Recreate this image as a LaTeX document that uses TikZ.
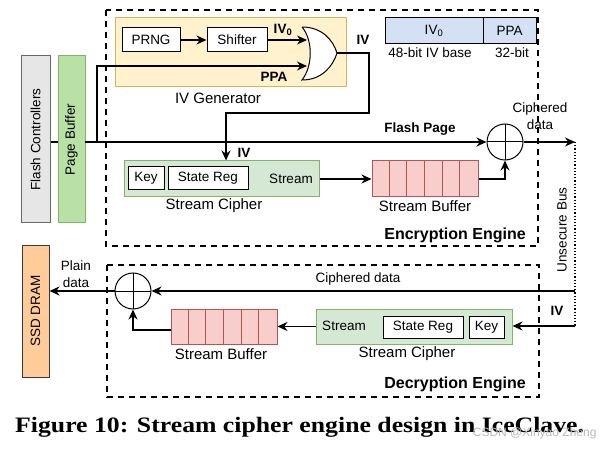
\documentclass[tikz,border=0pt]{standalone}
\usepackage{fontspec}
\setmainfont{Liberation Sans}
\newfontfamily\capfont{Liberation Serif}
\usetikzlibrary{arrows.meta,calc}
\definecolor{ylwfill}{HTML}{FFF2CC}\definecolor{ylwdraw}{HTML}{D6B656}
\definecolor{grnfill}{HTML}{D5E8D4}\definecolor{grndraw}{HTML}{82B366}
\definecolor{pbfill}{HTML}{B9E0A5}
\definecolor{pnkfill}{HTML}{F8CECC}\definecolor{pnkdraw}{HTML}{B85450}
\definecolor{gryfill}{HTML}{E6E6E6}\definecolor{grydraw}{HTML}{666666}
\definecolor{orgfill}{HTML}{FFCC99}\definecolor{orgdraw}{HTML}{36393D}
\definecolor{blufill}{HTML}{D4E1F5}
\tikzset{
  small/.style={font=\fontsize{13.5}{15}\selectfont},
  lbl/.style={font=\fontsize{15}{17}\selectfont},
  boldlbl/.style={font=\fontsize{13.5}{15}\selectfont\bfseries},
  whitebox/.style={draw=black, line width=1pt, fill=white, inner sep=0pt, small},
  arr/.style={line width=1.4pt, -{Stealth[length=10pt,width=9pt]}},
  ln/.style={line width=1.4pt},
  engine/.style={dashed, line width=1.4pt, dash pattern=on 6pt off 5pt},
  xorc/.style={circle, draw=black, line width=1pt, minimum size=36pt, inner sep=0pt,
    path picture={\draw[line width=1pt] (path picture bounding box.north) -- (path picture bounding box.south);
                  \draw[line width=1pt] (path picture bounding box.west) -- (path picture bounding box.east);}},
  tall/.style={line width=1pt, inner sep=0pt, small},
}
\begin{document}
\begin{tikzpicture}[x=1pt,y=-1pt]
\useasboundingbox (0,0) rectangle (613,449);
% engines
\draw[engine] (106,10) rectangle (538,246);
\draw[engine] (107,265) rectangle (539,397);
\node[font=\fontsize{16}{18}\selectfont\bfseries] (enclbl) at (455,235) {Encryption Engine};
\node[font=\fontsize{16}{18}\selectfont\bfseries] (declbl) at (455,384) {Decryption Engine};
% IV generator
\node[draw=ylwdraw, fill=ylwfill, line width=1pt, minimum width=231pt, minimum height=69pt, inner sep=0pt] (ivgen) at (230.5,52.5) {};
\node[lbl] (ivgenlbl) at (218,98) {IV Generator};
\node[whitebox, minimum width=58pt, minimum height=24pt] (prng) at (151,40) {PRNG};
\node[whitebox, minimum width=60pt, minimum height=24pt] (shifter) at (237,40) {Shifter};
% OR gate
\draw[line width=1pt, fill=white] (302,27) .. controls (322,27) and (333,40) .. (337,53)
   .. controls (333,66) and (322,80) .. (302,80) .. controls (313,66) and (313,40) .. (302,27);
\coordinate (gin1) at (307,40);
\coordinate (gin2) at (307,66);
\coordinate (gout) at (337,53);
\draw[arr] (prng) -- (shifter);
\draw[arr] (shifter) -- (gin1);
\node[boldlbl] (iv0lbl) at (283,30) {IV\textsubscript{0}};
\node[boldlbl] (ppalbl) at (274,77) {PPA};
% table
\node[draw=black, fill=blufill, line width=1pt, minimum width=98pt, minimum height=26pt, inner sep=0pt, small] (tiv) at (434,31) {IV\textsubscript{0}};
\node[draw=black, fill=blufill, line width=1pt, minimum width=53pt, minimum height=26pt, inner sep=0pt, small] (tppa) at (509.5,31) {PPA};
\node[small] (tivl) at (430,53) {48-bit IV base};
\node[small] (tppal) at (512,53) {32-bit};
% left boxes
\node[tall, draw=grydraw, fill=gryfill, minimum width=29pt, minimum height=167pt] (flashctl) at (35.5,139.5) {};
\node[small, rotate=90] at (flashctl) {Flash Controllers};
\node[tall, draw=grndraw, fill=pbfill, minimum width=27pt, minimum height=167pt] (pagebuf) at (71.5,139.5) {};
\node[small, rotate=90] at (pagebuf) {Page Buffer};
\node[tall, draw=orgdraw, fill=orgfill, minimum width=27pt, minimum height=132pt] (ssd) at (35.5,311) {};
\node[small, rotate=90] at (ssd) {SSD DRAM};
% encryption stream cipher
\node[draw=grndraw, fill=grnfill, line width=1pt, minimum width=195pt, minimum height=36pt, inner sep=0pt] (enccipher) at (221.5,179) {};
\node[whitebox, minimum width=36pt, minimum height=23pt] (enckey) at (146,178.5) {Key};
\node[whitebox, minimum width=80pt, minimum height=23pt] (encstate) at (208,178.5) {State Reg};
\node[small] (encstream) at (291,179) {Stream};
\node[lbl] (encciphlbl) at (214,206) {Stream Cipher};
% encryption buffer
\node[draw=pnkdraw, fill=pnkfill, line width=1pt, minimum width=106pt, minimum height=36pt, inner sep=0pt] (encbuf) at (425,179) {};
\foreach \i in {1,...,5} \draw[pnkdraw, line width=1pt] ($(encbuf.north west)+(\i*17.667,0)$) -- ($(encbuf.south west)+(\i*17.667,0)$);
\node[lbl] (encbuflbl) at (425,206) {Stream Buffer};
\node[xorc] (xor1) at (505,142) {};
% decryption stream cipher
\node[draw=grndraw, fill=grnfill, line width=1pt, minimum width=196pt, minimum height=35pt, inner sep=0pt] (deccipher) at (414,326.5) {};
\node[whitebox, minimum width=80pt, minimum height=22pt] (decstate) at (423,327) {State Reg};
\node[whitebox, minimum width=35pt, minimum height=22pt] (deckey) at (486.5,327) {Key};
\node[small] (decstream) at (344,326) {Stream};
\node[lbl] (decciphlbl) at (407,354) {Stream Cipher};
\node[draw=pnkdraw, fill=pnkfill, line width=1pt, minimum width=106pt, minimum height=35pt, inner sep=0pt] (decbuf) at (224,326.5) {};
\foreach \i in {1,...,5} \draw[pnkdraw, line width=1pt] ($(decbuf.north west)+(\i*17.667,0)$) -- ($(decbuf.south west)+(\i*17.667,0)$);
\node[lbl] (decbuflbl) at (221,354) {Stream Buffer};
\node[xorc] (xor2) at (133,291) {};
% connectors encryption
\coordinate (br) at (97,142);
\coordinate (pbout) at (85,142);
\draw[ln] (flashctl.east |- br) -- (pagebuf.west |- br);
\draw[arr] (pbout) -- (xor1.west);
\draw[arr] (br) |- (gin2);
\node[boldlbl] (fplbl) at (420,129) {Flash Page};
\coordinate (ivc1) at (369,113);
\coordinate (ivdrop) at (226,113);
\draw[arr] (gout) -| (ivc1) -- (ivdrop) -- (ivdrop |- enccipher.north);
\node[boldlbl] (ivlbl1) at (363,40) {IV};
\node[boldlbl] (ivlbl2) at (244,153) {IV};
\draw[arr] (enccipher.east) -- (encbuf.west);
\draw[arr] (encbuf.east) -| (xor1.south);
% bus
\coordinate (bus1) at (575,142);
\coordinate (bus2) at (575,326);
\draw[arr] (xor1.east) -- (bus1);
\draw[line width=1.2pt, dotted] (bus1) -- (bus2);
\node[small] (cdlbl) at (540,109) {Ciphered};
\node[small] (cdlbl) at (540,125) {data};
\node[small, rotate=90] (buslbl) at (562,230) {Unsecure Bus};
% decryption connectors
\draw[arr] (bus1 |- xor2) -- (xor2.east);
\node[small] (cdlbl2) at (358,279) {Ciphered data};
\draw[arr] (bus2) -- (deccipher.east |- bus2);
\node[boldlbl] (ivlbl3) at (557,311) {IV};
\draw[arr] (deccipher.west) -- (decbuf.east);
\coordinate (dbl) at (171,330);
\draw[arr] (dbl) -| (xor2.south);
\draw[arr] (xor2.west) -- (ssd.east |- xor2);
\node[small] (pdlbl) at (76,266) {Plain};
\node[small] (pdlbl2) at (76,283) {data};
% caption
\node[anchor=west, inner sep=0pt] (cap) at (15,427) {\scalebox{1.17}[1]{\capfont\bfseries\fontsize{22}{24}\selectfont Figure 10: Stream cipher engine design in IceClave.}};
\node[font=\fontsize{12}{14}\selectfont, text=gray!55, anchor=east] (wm) at (600,433) {CSDN @Xinyao Zheng};
\end{tikzpicture}
\end{document}
